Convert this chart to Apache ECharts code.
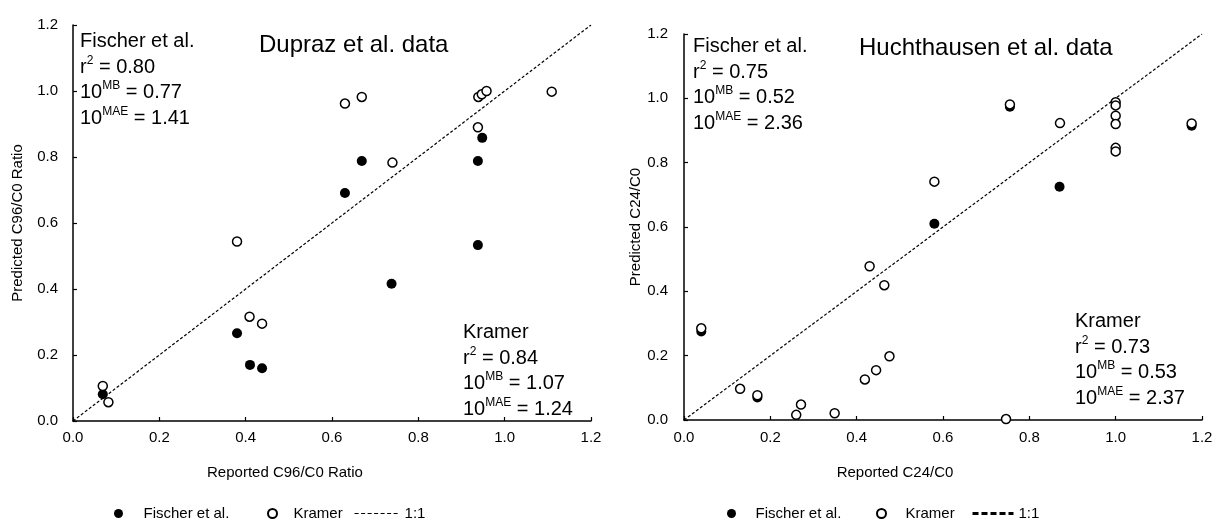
<!DOCTYPE html>
<html>
<head>
<meta charset="UTF-8">
<script src="https://cdn.jsdelivr.net/npm/echarts/dist/echarts.min.js"></script>
<style>
    html, body { margin: 0; padding: 0; background: #fff; }
    #chart { width: 1216px; height: 522px; }
</style>
</head>
<body>
<div id="chart"></div>
<script>
    // axis ticks (both panels use the same scale)
    var ticks = [0, 0.2, 0.4, 0.6, 0.8, 1.0, 1.2];

    // Dupraz et al. data (reported C96/C0, predicted C96/C0)
    var duprazFischer = [
        [0.069, 0.081], [0.38, 0.266], [0.41, 0.17], [0.438, 0.16], [0.63, 0.691],
        [0.669, 0.788], [0.738, 0.416], [0.938, 0.788], [0.948, 0.858], [0.938, 0.533]
    ];
    var duprazKramer = [
        [0.069, 0.106], [0.082, 0.057], [0.38, 0.544], [0.409, 0.316], [0.438, 0.295],
        [0.63, 0.962], [0.669, 0.982], [0.74, 0.783], [0.939, 0.982], [0.947, 0.99],
        [0.958, 1.0], [1.109, 0.998], [0.938, 0.89]
    ];

    // Huchthausen et al. data (reported C24/C0, predicted C24/C0)
    var huchFischer = [
        [0.04, 0.275], [0.17, 0.07], [0.58, 0.61], [0.755, 0.974], [0.87, 0.725], [1.176, 0.915]
    ];
    var huchKramer = [
        [0.04, 0.285], [0.13, 0.097], [0.17, 0.077], [0.26, 0.016], [0.271, 0.048],
        [0.349, 0.021], [0.419, 0.126], [0.43, 0.478], [0.445, 0.155], [0.464, 0.419],
        [0.476, 0.198], [0.58, 0.741], [0.746, 0.003], [0.755, 0.981], [0.871, 0.923],
        [1.0, 0.988], [1.0, 0.978], [1.0, 0.946], [1.0, 0.92], [1.0, 0.846], [1.0, 0.835],
        [1.176, 0.922]
    ];

    var oneToOne = [[0, 0], [1.2, 1.2]];

    // fit statistics shown in the panels
    var duprazStats = { fischer: ['0.80', '0.77', '1.41'], kramer: ['0.84', '1.07', '1.24'] };
    var huchStats = { fischer: ['0.75', '0.52', '2.36'], kramer: ['0.73', '0.53', '2.37'] };

    var FONT = 'Arial, "Liberation Sans", sans-serif';

    function axis(grid, name, nameGap, margin, pad) {
        return {
            type: 'value',
            gridIndex: grid,
            min: ticks[0],
            max: ticks[ticks.length - 1],
            interval: 0.2,
            name: name,
            nameLocation: 'middle',
            nameGap: nameGap,
            nameTextStyle: { color: '#000', fontSize: 15, fontFamily: FONT, padding: pad || 0 },
            axisLine: { show: true, onZero: false, lineStyle: { color: '#000', width: 1.5 } },
            axisTick: { show: true, inside: true, length: 4, lineStyle: { color: '#000', width: 1.2 } },
            axisLabel: {
                color: '#000', fontSize: 15, fontFamily: FONT, margin: margin,
                formatter: function (v) { return v.toFixed(1); }
            },
            splitLine: { show: false }
        };
    }

    function statsText(head, s) {
        return '{n|' + head + '}\n{n|r}{s|2}{n| = ' + s[0] + '}\n{n|10}{s|MB}{n| = ' + s[1] +
            '}\n{n|10}{s|MAE}{n| = ' + s[2] + '}';
    }

    var rich = {
        n: { fontSize: 20, lineHeight: 25.5, fontFamily: FONT, color: '#000', verticalAlign: 'middle' },
        s: { fontSize: 12, lineHeight: 12, fontFamily: FONT, color: '#000', verticalAlign: 'top' }
    };

    function label(x, y, text) {
        return { type: 'text', x: x, y: y, silent: true,
            style: { text: text, rich: rich, fill: '#000', font: '20px ' + FONT } };
    }

    function title(x, y, text) {
        return { type: 'text', x: x, y: y, silent: true,
            style: { text: text, fill: '#000', font: '24px ' + FONT, verticalAlign: 'middle' } };
    }

    function filled(name, idx, data) {
        return { name: name, type: 'scatter', xAxisIndex: idx, yAxisIndex: idx, data: data,
            symbol: 'circle', symbolSize: 10, itemStyle: { color: '#000', opacity: 1 }, z: 3 };
    }
    function open(name, idx, data) {
        return { name: name, type: 'scatter', xAxisIndex: idx, yAxisIndex: idx, data: data,
            symbol: 'circle', symbolSize: 9,
            itemStyle: { color: '#fff', borderColor: '#000', borderWidth: 1.5, opacity: 1 }, z: 4 };
    }
    function line(idx) {
        return { name: '1:1', type: 'line', xAxisIndex: idx, yAxisIndex: idx, data: oneToOne,
            symbol: 'none', itemStyle: { color: '#000' },
            lineStyle: { color: '#000', width: 1.2, type: [3, 2] }, z: 2 };
    }

    function legend(name, left, w, lineStyle) {
        var item = { name: name };
        if (lineStyle) {
            item.lineStyle = lineStyle;
            item.itemStyle = { opacity: 0 };
        } else {
            item.icon = 'circle';
        }
        return {
            left: left, top: 501, itemWidth: w, itemHeight: 9, selectedMode: false,
            textStyle: { color: '#000', fontSize: 15, fontFamily: FONT },
            data: [item]
        };
    }

    var myChart = echarts.init(document.getElementById('chart'));
    var option = {
        animation: false,
        backgroundColor: '#fff',
        grid: [
            { left: 73, top: 25, width: 518, height: 396 },
            { left: 684, top: 34, width: 518, height: 386 }
        ],
        xAxis: [
            axis(0, 'Reported C96/C0 Ratio', 44, 9, [0, 94, 0, 0]),
            axis(1, 'Reported C24/C0', 45, 10, [0, 96, 0, 0])
        ],
        yAxis: [
            axis(0, 'Predicted C96/C0 Ratio', 48, 15),
            axis(1, 'Predicted C24/C0', 38, 16)
        ],
        legend: [
            legend('Fischer et al.', 109, 40),
            legend('Kramer', 262, 32),
            legend('1:1', 349, 45, { width: 1.2, type: [4, 2.5] }),
            legend('Fischer et al.', 722, 38),
            legend('Kramer', 871, 38),
            legend('1:1', 966, 41, { width: 3, type: [6, 3] })
        ],
        graphic: [
            title(259, 45, 'Dupraz et al. data'),
            title(859, 48, 'Huchthausen et al. data'),
            label(80, 29, statsText('Fischer et al.', duprazStats.fischer)),
            label(463, 320, statsText('Kramer', duprazStats.kramer)),
            label(693, 34, statsText('Fischer et al.', huchStats.fischer)),
            label(1075, 309, statsText('Kramer', huchStats.kramer))
        ],
        series: [
            line(0),
            filled('Fischer et al.', 0, duprazFischer),
            open('Kramer', 0, duprazKramer),
            line(1),
            filled('Fischer et al.', 1, huchFischer),
            open('Kramer', 1, huchKramer)
        ]
    };
    myChart.setOption(option, true);
</script>
</body>
</html>
